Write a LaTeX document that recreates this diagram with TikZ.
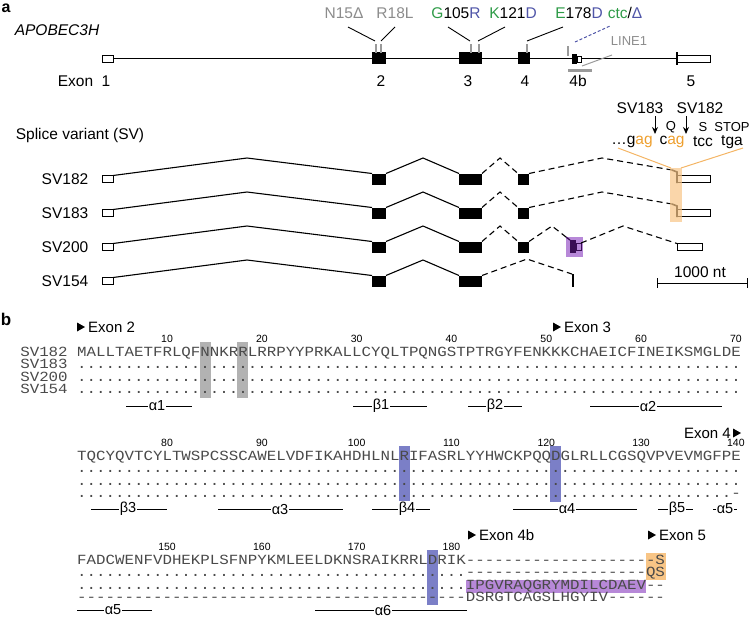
\documentclass[tikz,border=0pt]{standalone}
\usepackage{fontspec}
\setmainfont{Liberation Sans}
\setmonofont{Liberation Mono}[FakeStretch=1.1286]
\usetikzlibrary{arrows.meta}
\newcommand\myfs[1]{\fontsize{#1}{#1}\selectfont}
\ExplSyntaxOn
\cs_new:Npn \myrep #1#2 { \prg_replicate:nn {#1} {#2} }
\ExplSyntaxOff
\definecolor{mgray}{HTML}{8C8C8C}
\definecolor{mgreen}{HTML}{2E9B47}
\definecolor{mblue}{HTML}{4F55A8}
\definecolor{morange}{HTML}{EE9F2E}
\definecolor{lorange}{HTML}{F8C586}
\definecolor{lineorange}{HTML}{F4B565}
\definecolor{lpurple}{HTML}{B788D8}
\definecolor{dpurple}{HTML}{3A0E55}
\definecolor{hgray}{HTML}{B2B2B2}
\definecolor{hblue}{HTML}{7B7FC7}
\definecolor{tickgray}{HTML}{9A9A9A}
\definecolor{seqgray}{HTML}{4A4A4A}
\begin{document}
\begin{tikzpicture}[x=1pt,y=-1pt,
  lab/.style={inner sep=0pt, font=\myfs{15.5}},
  smalllab/.style={inner sep=0pt, font=\myfs{13}},
  num/.style={inner sep=0pt, font=\myfs{10.5}},
  eopen/.style={draw=black, fill=white, line width=0.9pt, inner sep=0pt, outer sep=0pt},
  efill/.style={fill=black, draw=none, inner sep=0pt, outer sep=0pt},
  intron/.style={line width=1.1pt, line join=round},
  dintron/.style={line width=1.1pt, dash pattern=on 6pt off 4pt},
  seqtxt/.style={inner sep=0pt, anchor=base west, font=\ttfamily\myfs{14}, text=seqgray},
  ssline/.style={line width=0.9pt},
  sslab/.style={inner sep=1pt, fill=white, font=\myfs{14.5}},
  pointer/.style={line width=0.9pt},
  mtick/.style={line width=1.6pt, draw=tickgray},
  tri/.style={fill=black},
]
\useasboundingbox (0,0) rectangle (749,619);

% ---------- panel a : gene ----------
\node[inner sep=0pt, font=\bfseries\myfs{16}] (pa) at (6,8) {a};
\node[lab, font=\itshape\myfs{15.5}] (gname) at (57,30) {APOBEC3H};

\coordinate (gl) at (113,58.5);
\coordinate (gr) at (677,58.5);
\draw[line width=0.9pt] (gl) -- (gr);
\node[eopen, minimum width=11pt, minimum height=7pt] (g1) at (107.5,58.5) {};
\node[efill, minimum width=14pt, minimum height=12pt] (g2) at (379,58) {};
\node[efill, minimum width=23pt, minimum height=12pt] (g3) at (470.5,58) {};
\node[efill, minimum width=12pt, minimum height=12pt] (g4) at (524,58) {};
\node[efill, minimum width=5pt, minimum height=10pt] (g4b) at (574.5,59) {};
\node[eopen, minimum width=4pt, minimum height=6pt] (g4c) at (579,59) {};
\node[eopen, minimum width=33pt, minimum height=7pt] (g5) at (693.5,58.5) {};
\draw[line width=1.2pt] (677,52) -- (677,65);
\foreach \x in {376,381,471,479,527} \draw[mtick] (\x,44) -- (\x,53);
\draw[mtick] (568,46) -- (568,56);
\draw[line width=3.5pt, draw=tickgray] (568,70.5) -- (592,70.5);

\node[lab] (ex1) at (75.5,81) {Exon};
\node[lab] (n1) at (106,81) {1};
\node[lab] (n2) at (381,81) {2};
\node[lab] (n3) at (468,81) {3};
\node[lab] (n4) at (525,81) {4};
\node[lab] (n4b) at (578,81) {4b};
\node[lab] (n5) at (691,81) {5};

\node[lab, text=mgray] (mN) at (344,13) {N15Δ};
\node[lab, text=mgray] (mR) at (395,13) {R18L};
\node[lab] (mG) at (456,13) {\textcolor{mgreen}{G}105\textcolor{mblue}{R}};
\node[lab] (mK) at (513,13) {\textcolor{mgreen}{K}121\textcolor{mblue}{D}};
\node[lab] (mE) at (579,13) {\textcolor{mgreen}{E}178\textcolor{mblue}{D}};
\node[lab] (mC) at (625,13) {\textcolor{mgreen}{ctc}/\textcolor{mblue}{Δ}};
\node[smalllab, text=mgray] (l1) at (629,41) {LINE1};

\draw[pointer] (348,27) -- (375,41);
\draw[pointer] (395,27) -- (381,41);
\draw[pointer] (448,27) -- (470,41);
\draw[pointer] (505,27) -- (478,41);
\draw[pointer] (563,27) -- (527,41);
\draw[line width=1pt, draw=mblue, dash pattern=on 3pt off 2pt] (575,42) -- (610,26);
\draw[line width=1pt, draw=tickgray] (612,55) -- (582,66);

% ---------- splice variants ----------
\node[lab] (svt) at (80,135) {Splice variant (SV)};

\draw[line width=1pt, draw=lineorange] (618,148) -- (671,168);
\draw[line width=1pt, draw=lineorange] (743,148) -- (681,168);

\foreach \y/\n/\lbl in {179/a/SV182,213/b/SV183,247/c/SV200,281/d/SV154} {
  \node[lab] (lab\n) at (65,\y) {\lbl};
  \node[eopen, minimum width=11pt, minimum height=7pt] (xa\n) at (107.5,\y) {};
  \node[efill, minimum width=14pt, minimum height=11pt] (xb\n) at (379,\y) {};
  \node[efill, minimum width=23pt, minimum height=11pt] (xc\n) at (470.5,\y) {};
  \coordinate (pa\n) at (247,{\y-21});
  \coordinate (pb\n) at (423,{\y-21});
  \draw[intron] (xa\n.north east) -- (pa\n) -- (xb\n.north west);
  \draw[intron] (xb\n.north east) -- (pb\n) -- (xc\n.north west);
}
\foreach \y/\n in {179/a,213/b,247/c} {
  \node[efill, minimum width=11pt, minimum height=11pt] (xd\n) at (523.5,\y) {};
  \coordinate (pc\n) at (500,{\y-21});
  \draw[dintron] (xc\n.north east) -- (pc\n) -- (xd\n.north west);
}
\foreach \y/\n in {179/a,213/b} {
  \node[eopen, minimum width=33pt, minimum height=7pt] (xe\n) at (693.5,\y) {};
  \coordinate (pd\n) at (602,{\y-21});
  \coordinate (qd\n) at (672,{\y-9});
  \draw[dintron] (xd\n.north east) -- (pd\n) -- (qd\n);
  \draw[line width=1.6pt] (qd\n) -- (677,{\y-7}) -- (677,{\y+4});
}
\fill[lorange, opacity=0.7] (670,168) rectangle (682,222);

% SV200 : exon 4b
\fill[lpurple] (566,237) rectangle (583,257);
\node[efill, fill=dpurple, minimum width=6pt, minimum height=13pt] (xfc) at (573,246.5) {};
\node[eopen, draw=dpurple, fill=none, minimum width=5pt, minimum height=7pt] (xgc) at (578.5,246.5) {};
\coordinate (pec) at (552,226);
\coordinate (qec) at (566,237);
\draw[dintron] (xdc.north east) -- (pec) -- (qec);
\draw[line width=1.3pt, draw=dpurple] (qec) -- (xfc.north west);
\node[eopen, minimum width=25pt, minimum height=7pt] (xhc) at (689.5,247) {};
\coordinate (pfc) at (623,226);
\draw[dintron] (xgc.north east) -- (pfc) -- (xhc.north west);

% SV154 : truncated
\coordinate (ped) at (527,259);
\coordinate (qed) at (572,274);
\draw[dintron] (xcd.north east) -- (ped) -- (qed);
\draw[line width=2.5pt] (573,274) -- (573,287);

% sequence annotation
\node[lab] (t183) at (640,108) {SV183};
\node[lab] (t182) at (700,108) {SV182};
\draw[-{Stealth[length=7pt,width=6pt]}, line width=1pt] (655,116) -- (655,134);
\draw[-{Stealth[length=7pt,width=6pt]}, line width=1pt] (686,116) -- (686,134);
\node[smalllab] (aq) at (671,127) {Q};
\node[smalllab] (as) at (703,127) {S};
\node[smalllab] (ast) at (732,127) {STOP};
\node[lab] (c1) at (632,142) {…g\textcolor{morange}{ag}};
\node[lab] (c2) at (672,142) {c\textcolor{morange}{ag}};
\node[lab] (c3) at (703,142) {tcc};
\node[lab] (c4) at (732,142) {tga};

% scale bar
\node[lab] (sbl) at (700,272) {1000 nt};
\coordinate (sb1) at (657,283);
\coordinate (sb2) at (747,283);
\draw[line width=1pt] (sb1) -- (sb2);
\draw[line width=1pt] (657,278) -- (657,288);
\draw[line width=1pt] (747,278) -- (747,288);

% ---------- panel b ----------
\node[inner sep=0pt, font=\bfseries\myfs{17}] (pb) at (6,319) {b};

% block 1
\fill[hgray] (199.5,342) rectangle (210.5,398);
\fill[hgray] (237.4,342) rectangle (248.4,398);
\fill[tri] (77,322.5) -- (85,327) -- (77,331.5) -- cycle;
\node[lab, font=\myfs{15}, anchor=west] (e2) at (88,327) {Exon 2};
\fill[tri] (553,322.5) -- (561,327) -- (553,331.5) -- cycle;
\node[lab, font=\myfs{15}, anchor=west] (e3) at (564,327) {Exon 3};
\foreach \i in {1,...,7} \node[num] at ({77+(\i*10-0.5)*9.48},338.5) {\the\numexpr\i*10\relax};
\node[seqtxt] (b1l1) at (20.1,356) {SV182};
\node[seqtxt] (b1l2) at (20.1,368.5) {SV183};
\node[seqtxt] (b1l3) at (20.1,381) {SV200};
\node[seqtxt] (b1l4) at (20.1,393.5) {SV154};
\node[seqtxt] (b1r1) at (77,356) {MALLTAETFRLQFNNKRRLRRPYYPRKALLCYQLTPQNGSTPTRGYFENKKKCHAEICFINEIKSMGLDE};
\node[seqtxt] (b1r2) at (77,368.5) {\myrep{70}{.}};
\node[seqtxt] (b1r3) at (77,381) {\myrep{70}{.}};
\node[seqtxt] (b1r4) at (77,393.5) {\myrep{70}{.}};
\foreach \a/\b/\lx/\t in {126/192/157/α1, 353/427/381/β1, 468/522/495/β2, 590/722/648/α2} {
  \draw[ssline] (\a,406) -- (\b,406);
  \node[sslab] at (\lx,406) {\t};
}

% block 2
\fill[hblue] (398.6,446) rectangle (409.6,502);
\fill[hblue] (550.2,446) rectangle (561.2,502);
\node[lab, font=\myfs{15}, anchor=east] (e4) at (731,433) {Exon 4};
\fill[tri] (733,428.5) -- (741,433) -- (733,437.5) -- cycle;
\foreach \i in {8,...,14} \node[num] at ({77+((\i-7)*10-0.5)*9.48},442.5) {\the\numexpr\i*10\relax};
\node[seqtxt] (b2r1) at (77,460) {TQCYQVTCYLTWSPCSSCAWELVDFIKAHDHLNLRIFASRLYYHWCKPQQDGLRLLCGSQVPVEVMGFPE};
\node[seqtxt] (b2r2) at (77,472.5) {\myrep{70}{.}};
\node[seqtxt] (b2r3) at (77,485) {\myrep{70}{.}};
\node[seqtxt] (b2r4) at (77,497.5) {\myrep{69}{.}{-}};
\foreach \a/\b/\lx/\t in {91/167/128/β3, 218/343/280/α3, 372/430/407/β4, 513/637/567/α4, 658/693/677/β5, 713/737/725/α5} {
  \draw[ssline] (\a,509) -- (\b,509);
  \node[sslab] at (\lx,509) {\t};
}

% block 3
\fill[hblue] (427,550) rectangle (438,605);
\fill[lorange] (645.8,553) rectangle (665.5,580);
\fill[lpurple] (465.7,580) rectangle (645.8,592.5);
\fill[tri] (468,530.5) -- (476,535) -- (468,539.5) -- cycle;
\node[lab, font=\myfs{15}, anchor=west] (e4b) at (479,535) {Exon 4b};
\fill[tri] (648,530.5) -- (656,535) -- (648,539.5) -- cycle;
\node[lab, font=\myfs{15}, anchor=west] (e5) at (659,535) {Exon 5};
\foreach \i in {15,...,18} \node[num] at ({77+((\i-14)*10-0.5)*9.48},546.5) {\the\numexpr\i*10\relax};
\node[seqtxt] (b3r1) at (77,564) {FADCWENFVDHEKPLSFNPYKMLEELDKNSRAIKRRLDRIK\myrep{20}{{-}}S};
\node[seqtxt] (b3r2) at (77,576.5) {\myrep{41}{.}\myrep{19}{{-}}QS};
\node[seqtxt] (b3r3) at (77,589) {\myrep{41}{.}IPGVRAQGRYMDILCDAEV{-}{-}};
\node[seqtxt] (b3r4) at (77,601.5) {\myrep{41}{{-}}DSRGTCAGSLHGYIV\myrep{6}{{-}}};
\foreach \a/\b/\lx/\t in {77/152/113/α5, 315/467/383/α6} {
  \draw[ssline] (\a,610) -- (\b,610);
  \node[sslab] at (\lx,610) {\t};
}
\end{tikzpicture}
\end{document}
